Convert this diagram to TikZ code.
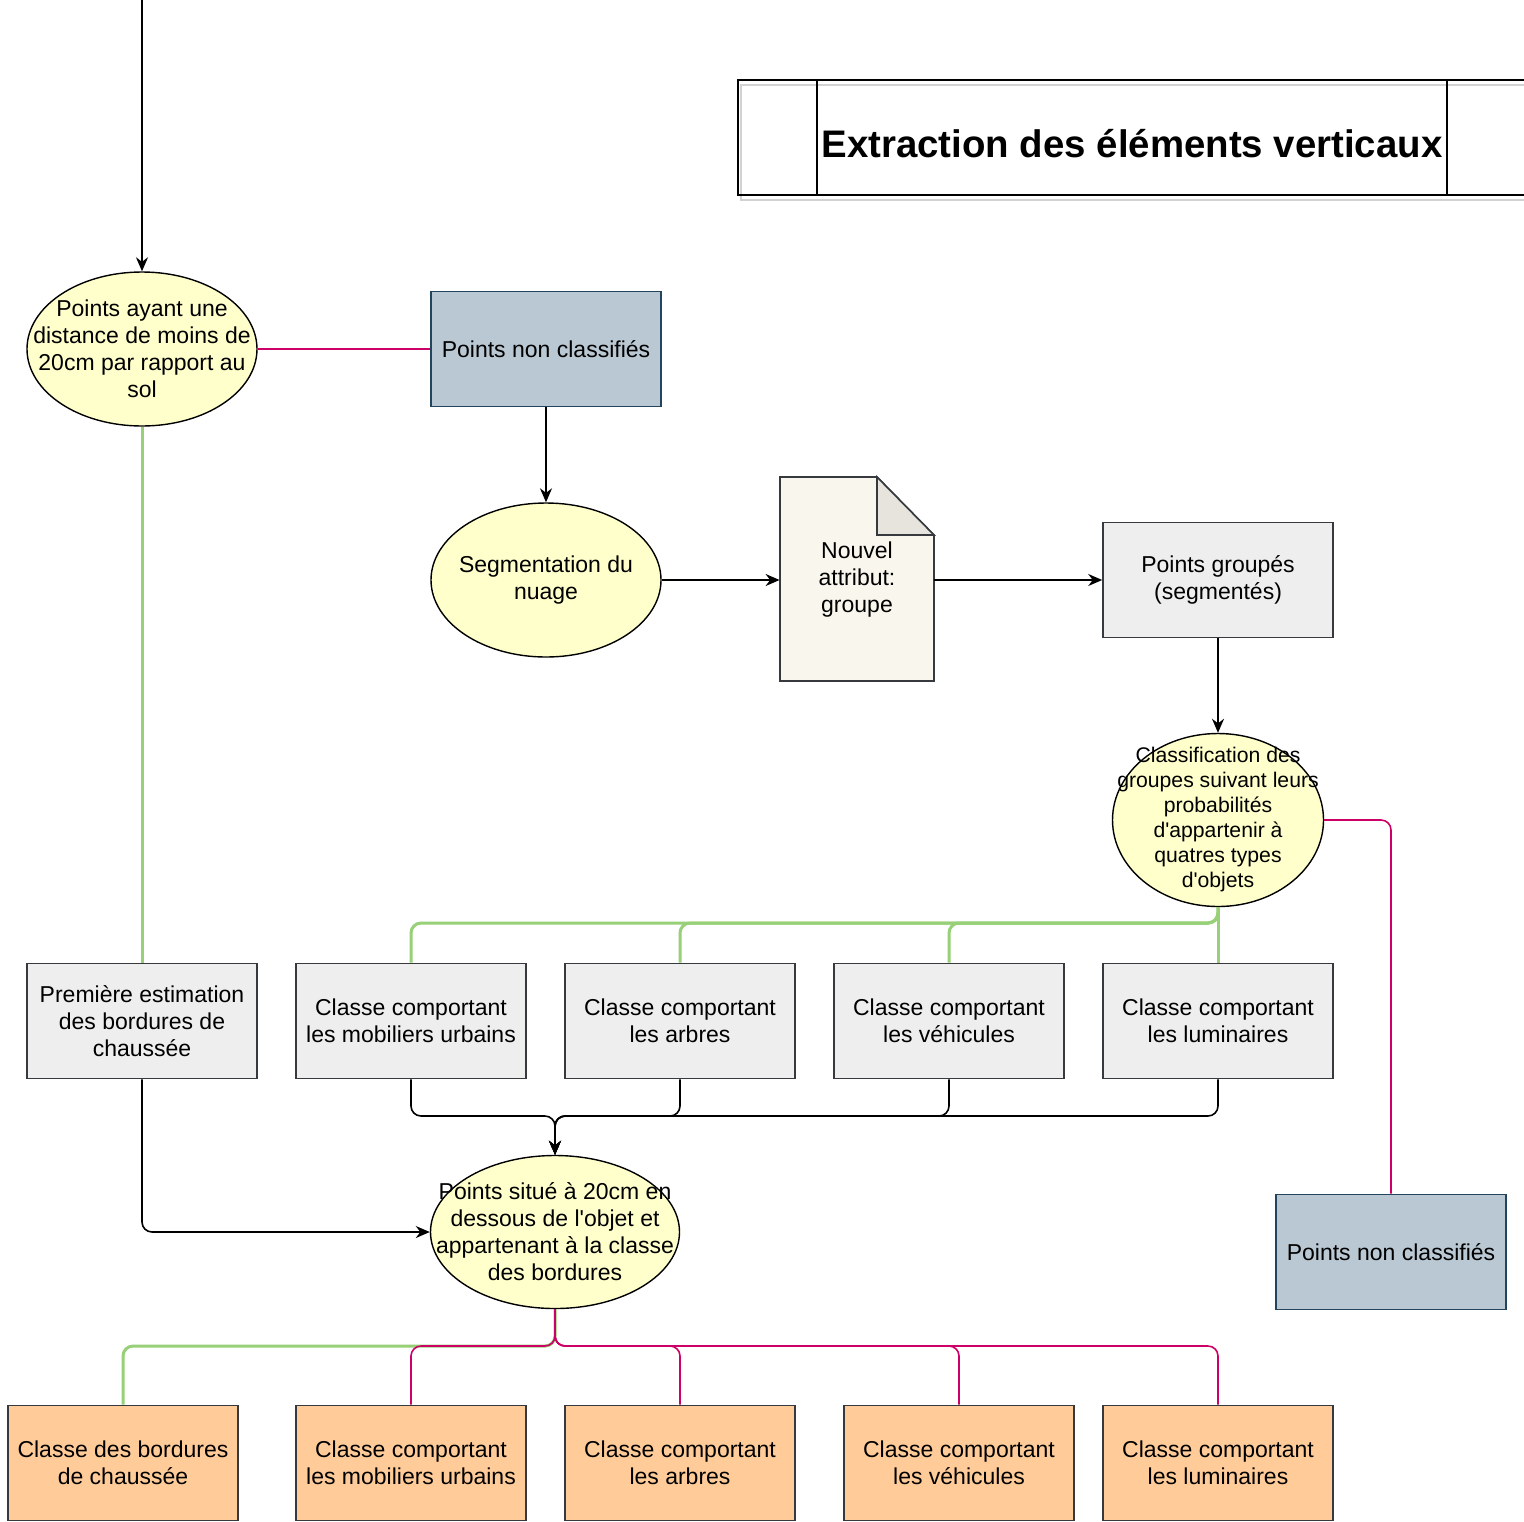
\documentclass[tikz,border=0pt]{standalone}
\usepackage{fontspec}
\setmainfont{Liberation Sans}
\usetikzlibrary{arrows.meta,shapes.geometric}
\definecolor{jaune}{HTML}{FFFFCC}
\definecolor{bleugris}{HTML}{BAC8D3}
\definecolor{bleufonce}{HTML}{23445D}
\definecolor{grisclair}{HTML}{EEEEEE}
\definecolor{trait}{HTML}{36393D}
\definecolor{orangeclair}{HTML}{FFCC99}
\definecolor{vert}{HTML}{97D077}
\definecolor{rose}{HTML}{CC0066}
\definecolor{papier}{HTML}{F9F7ED}
\definecolor{pli}{HTML}{E6E4DD}

\begin{document}
\begin{tikzpicture}[x=0.5pt,y=-0.5pt,
    >={Stealth[length=7pt,width=6pt]},
    font=\fontsize{11.5}{13.5}\selectfont,
    etape/.style={ellipse,draw,line width=0.7pt,fill=jaune,minimum width=115pt,minimum height=77pt,inner sep=0pt},
    texte/.style={align=center,inner sep=0pt},
    boite/.style={rectangle,draw=trait,line width=0.8pt,fill=grisclair,minimum width=115pt,minimum height=57.5pt,inner sep=0pt,align=center},
    nonclasse/.style={boite,draw=bleufonce,fill=bleugris},
    resultat/.style={boite,fill=orangeclair},
    lienvert/.style={vert,line width=1.5pt,rounded corners=5pt},
    lienrose/.style={rose,line width=0.8pt,rounded corners=5pt},
    fleche/.style={->,line width=0.8pt,rounded corners=5pt}]
    \useasboundingbox (0,0) rectangle (1524,1521);

    % titre
    \draw[fill=white,line width=0.8pt] (738,80) rectangle (1540,195);
    \draw[gray!35,line width=0.8pt] (741,85) rectangle (1540,200);
    \draw[line width=0.8pt] (738,80) rectangle (1540,195);
    \draw[line width=0.8pt] (817,80) -- (817,195) (1447,80) -- (1447,195);
    \node[font=\fontsize{19.2}{22}\selectfont\bfseries] (titre) at (1132,144) {Extraction des éléments verticaux};

    \coordinate (depart) at (142,0);
    \node[etape,label={[texte]center:Points ayant une\\distance de moins de\\20cm par rapport au\\sol}] (sol) at (142,349) {};
    \node[nonclasse] (nc1) at (546,349) {Points non classifiés};
    \node[etape,label={[texte]center:Segmentation du\\nuage}] (seg) at (546,580) {};
    \draw[trait,fill=papier,line width=0.8pt] (780,477) -- (877,477) -- (934,535) -- (934,681) -- (780,681) -- cycle;
    \draw[trait,fill=pli,line width=0.8pt] (877,477) -- (877,535) -- (934,535) -- cycle;
    \node[minimum width=77pt,minimum height=102pt,align=center] (attr) at (857,580) {Nouvel\\attribut:\\groupe};
    \node[boite] (grp) at (1218,580) {Points groupés\\(segmentés)};
    \node[etape,minimum width=105.5pt,minimum height=86.5pt,
        label={[texte,font=\fontsize{10.6}{12.5}\selectfont]center:Classification des\\groupes suivant leurs\\probabilités\\d\textquotesingle appartenir à\\quatres types\\d\textquotesingle objets}] (classif) at (1218,820) {};
    \node[nonclasse] (nc2) at (1391,1252) {Points non classifiés};

    \node[boite] (bord) at (142,1021) {Première estimation\\des bordures de\\chaussée};
    \node[boite] (mob) at (411,1021) {Classe comportant\\les mobiliers urbains};
    \node[boite] (arb) at (680,1021) {Classe comportant\\les arbres};
    \node[boite] (veh) at (949,1021) {Classe comportant\\les véhicules};
    \node[boite] (lum) at (1218,1021) {Classe comportant\\les luminaires};

    \node[etape,minimum width=124.5pt,minimum height=76.5pt,
        label={[texte]center:Points situé à 20cm en\\dessous de l\textquotesingle objet et\\appartenant à la classe\\des bordures}] (dessous) at (555,1232) {};

    \node[resultat] (rbord) at (123,1463) {Classe des bordures\\de chaussée};
    \node[resultat] (rmob) at (411,1463) {Classe comportant\\les mobiliers urbains};
    \node[resultat] (rarb) at (680,1463) {Classe comportant\\les arbres};
    \node[resultat] (rveh) at (959,1463) {Classe comportant\\les véhicules};
    \node[resultat] (rlum) at (1218,1463) {Classe comportant\\les luminaires};

    \coordinate (k) at (1218,923);
    \coordinate (j) at (555,1116);
    \coordinate (m) at (555,1346);

    \draw[fleche] (depart) -- (sol.north);
    \draw[lienrose] (sol.east) -- (nc1.west);
    \draw[fleche] (nc1.south) -- (seg.north);
    \draw[fleche] (seg.east) -- (attr.west);
    \draw[fleche] (attr.east) -- (grp.west);
    \draw[fleche] (grp.south) -- (classif.north);
    \draw[lienrose] (classif.east) -| (nc2.north);
    \draw[lienvert] (sol.south) -- (bord.north);
    \draw[lienvert] (classif.south) -- (lum.north);
    \foreach \c in {mob,arb,veh}
        \draw[lienvert] (classif.south) -- (k) -| (\c.north);
    \foreach \c in {mob,arb,veh,lum}
        \draw[fleche] (\c.south) |- (j) -- (dessous.north);
    \draw[fleche] (bord.south) |- (dessous.west);
    \draw[lienvert] (dessous.south) -- (m) -| (rbord.north);
    \foreach \c in {rmob,rarb,rveh,rlum}
        \draw[lienrose] (dessous.south) -- (m) -| (\c.north);
\end{tikzpicture}
\end{document}
